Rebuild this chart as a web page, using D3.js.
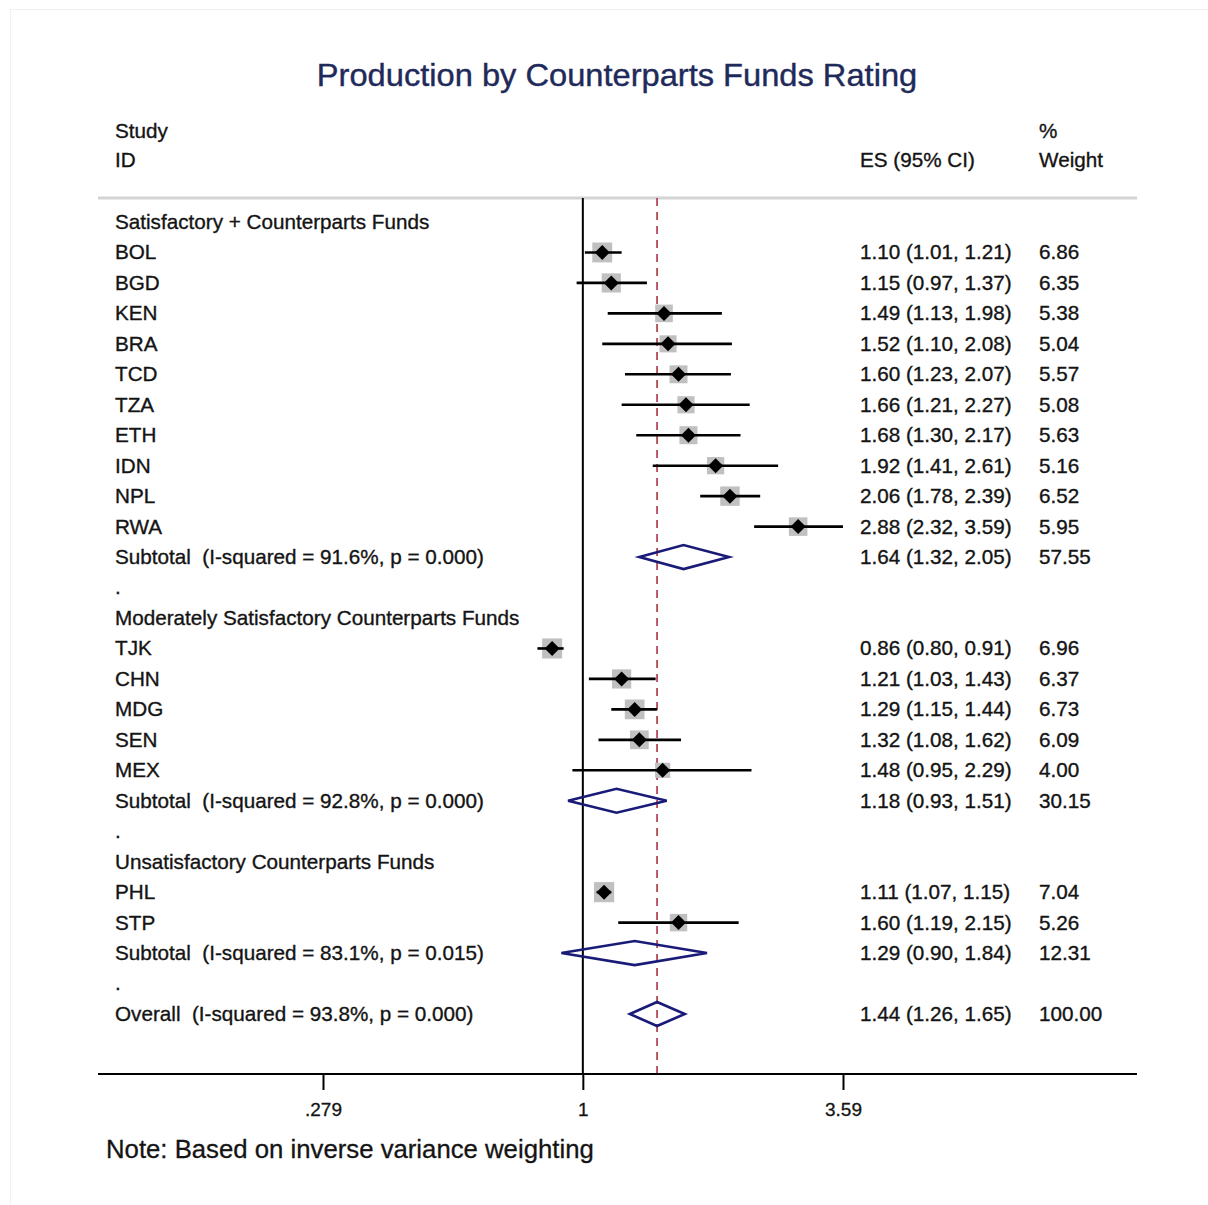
<!DOCTYPE html>
<html>
<head>
<meta charset="utf-8">
<script src="https://cdn.jsdelivr.net/npm/d3@7"></script>
<style>
  html, body { margin: 0; padding: 0; background: #fff; }
  svg { display: block; }
  text { font-family: "Liberation Sans", Arial, sans-serif; white-space: pre; }
</style>
</head>
<body>
<svg id="chart" width="1208" height="1205"></svg>
<script>
// ---------- DATA ----------
const groupTitles = [
  "Satisfactory + Counterparts Funds",
  "Moderately Satisfactory Counterparts Funds",
  "Unsatisfactory Counterparts Funds"
];
const studyIds    = ["BOL","BGD","KEN","BRA","TCD","TZA","ETH","IDN","NPL","RWA",
                     "TJK","CHN","MDG","SEN","MEX",
                     "PHL","STP"];
const studyGroup  = [0,0,0,0,0,0,0,0,0,0, 1,1,1,1,1, 2,2];
const studyES     = [1.10,1.15,1.49,1.52,1.60,1.66,1.68,1.92,2.06,2.88, 0.86,1.21,1.29,1.32,1.48, 1.11,1.60];
const studyLow    = [1.01,0.97,1.13,1.10,1.23,1.21,1.30,1.41,1.78,2.32, 0.80,1.03,1.15,1.08,0.95, 1.07,1.19];
const studyHigh   = [1.21,1.37,1.98,2.08,2.07,2.27,2.17,2.61,2.39,3.59, 0.91,1.43,1.44,1.62,2.29, 1.15,2.15];
const studyWeight = [6.86,6.35,5.38,5.04,5.57,5.08,5.63,5.16,6.52,5.95, 6.96,6.37,6.73,6.09,4.00, 7.04,5.26];

const subtotalLabels = ["Subtotal  (I-squared = 91.6%, p = 0.000)",
                        "Subtotal  (I-squared = 92.8%, p = 0.000)",
                        "Subtotal  (I-squared = 83.1%, p = 0.015)"];
const subtotalES     = [1.64, 1.18, 1.29];
const subtotalLow    = [1.32, 0.93, 0.90];
const subtotalHigh   = [2.05, 1.51, 1.84];
const subtotalWeight = [57.55, 30.15, 12.31];

const overallLabel  = "Overall  (I-squared = 93.8%, p = 0.000)";
const overallES     = 1.44;
const overallLow    = 1.26;
const overallHigh   = 1.65;
const overallWeight = 100.00;

const tickValues = [0.279, 1, 3.59];
const tickLabels = [".279", "1", "3.59"];

const titleText = "Production by Counterparts Funds Rating";
const noteText  = "Note: Based on inverse variance weighting";

// ---------- BUILD ROWS ----------
const rows = [];
groupTitles.forEach((g, gi) => {
  rows.push({type: "heading", label: g});
  studyIds.forEach((id, i) => {
    if (studyGroup[i] === gi) rows.push({type: "study", label: id, es: studyES[i], lo: studyLow[i], hi: studyHigh[i], w: studyWeight[i]});
  });
  rows.push({type: "subtotal", label: subtotalLabels[gi], es: subtotalES[gi], lo: subtotalLow[gi], hi: subtotalHigh[gi], w: subtotalWeight[gi]});
  rows.push({type: "blank", label: "."});
});
rows.push({type: "overall", label: overallLabel, es: overallES, lo: overallLow, hi: overallHigh, w: overallWeight});

// ---------- LAYOUT ----------
const svg = d3.select("#chart");
const x = d3.scaleLog().domain([0.279, 3.59]).range([323, 843]);
const y = d3.scaleLinear().domain([0, rows.length - 1]).range([222, 1014]);
const f2 = d3.format(".2f");

const plotTop = 198, axisY = 1074, leftX = 98, rightX = 1137;
const textColor = "#141414";
const navy = "#1a1a78";

// faint outer frame
svg.append("rect").attr("x", 10.5).attr("y", 9.5).attr("width", 1210).attr("height", 1210)
  .attr("fill", "none").attr("stroke", "#f1f1f1").attr("stroke-width", 1);

function addText(sel, str, xx, yy, size, opts = {}) {
  const fill = opts.fill || textColor;
  return sel.append("text")
    .attr("transform", `translate(${xx},${yy}) scale(${opts.scale || 0.985},1)`)
    .attr("font-size", size)
    .attr("dy", "0.33em")
    .attr("fill", fill)
    .attr("stroke", fill)
    .attr("stroke-width", opts.sw !== undefined ? opts.sw : 0.35)
    .attr("text-anchor", opts.anchor || "start")
    .text(str);
}

// title
addText(svg, titleText, 617, 75, 32, {anchor: "middle", fill: "#1f2a5a", scale: 1.02, sw: 0.4});

// headers
addText(svg, "Study", 115, 131, 21);
addText(svg, "ID", 115, 160, 21);
addText(svg, "ES (95% CI)", 860, 160, 21);
addText(svg, "%", 1039, 131, 21);
addText(svg, "Weight", 1039, 160, 21);

// header rule
svg.append("line").attr("x1", leftX).attr("x2", rightX).attr("y1", plotTop).attr("y2", plotTop)
  .attr("stroke", "#d3d3d3").attr("stroke-width", 3);

// null line at 1
svg.append("line").attr("x1", x(1)).attr("x2", x(1)).attr("y1", plotTop).attr("y2", axisY)
  .attr("stroke", "#000").attr("stroke-width", 2);

// overall dashed line
svg.append("line").attr("x1", x(overallES)).attr("x2", x(overallES)).attr("y1", plotTop).attr("y2", axisY)
  .attr("stroke", "#a8323e").attr("stroke-width", 1.6).attr("stroke-dasharray", "8,6");

// rows
const rowG = svg.append("g");
rows.forEach((r, i) => {
  const yy = y(i);
  addText(rowG, r.label, 115, yy, 21);
  if (r.type === "study") {
    const side = 7.6 * Math.sqrt(r.w);
    rowG.append("rect").attr("x", x(r.es) - side / 2).attr("y", yy - side / 2)
      .attr("width", side).attr("height", side).attr("fill", "#c0c0c0");
    rowG.append("line").attr("x1", x(r.lo)).attr("x2", x(r.hi)).attr("y1", yy).attr("y2", yy)
      .attr("stroke", "#000").attr("stroke-width", 2.6);
    const d = 7.5;
    const cx = x(r.es);
    rowG.append("path")
      .attr("d", `M${cx - d},${yy}L${cx},${yy - d}L${cx + d},${yy}L${cx},${yy + d}Z`)
      .attr("fill", "#000");
  }
  if (r.type === "subtotal" || r.type === "overall") {
    const h = 12;
    rowG.append("path")
      .attr("d", `M${x(r.lo)},${yy}L${x(r.es)},${yy - h}L${x(r.hi)},${yy}L${x(r.es)},${yy + h}Z`)
      .attr("fill", "none").attr("stroke", navy).attr("stroke-width", 2.6).attr("stroke-linejoin", "miter");
  }
  if (r.es !== undefined) {
    addText(rowG, `${f2(r.es)} (${f2(r.lo)}, ${f2(r.hi)})`, 860, yy, 21);
    addText(rowG, f2(r.w), 1039, yy, 21);
  }
});

// axis
svg.append("line").attr("x1", leftX).attr("x2", rightX).attr("y1", axisY).attr("y2", axisY)
  .attr("stroke", "#000").attr("stroke-width", 2);
const axis = d3.axisBottom(x).tickValues(tickValues)
  .tickFormat((d, i) => tickLabels[i]).tickSize(16).tickPadding(13);
const axG = svg.append("g").attr("transform", `translate(0,${axisY})`).call(axis);
axG.select(".domain").remove();
axG.selectAll(".tick line").attr("stroke", "#000").attr("stroke-width", 2);
axG.selectAll(".tick text")
  .attr("font-size", 19).attr("fill", textColor)
  .attr("stroke", textColor).attr("stroke-width", 0.3)
  .attr("font-family", "Liberation Sans, Arial, sans-serif");

// note
addText(svg, noteText, 106, 1150, 25, {scale: 1.03, sw: 0.3});
</script>
</body>
</html>
